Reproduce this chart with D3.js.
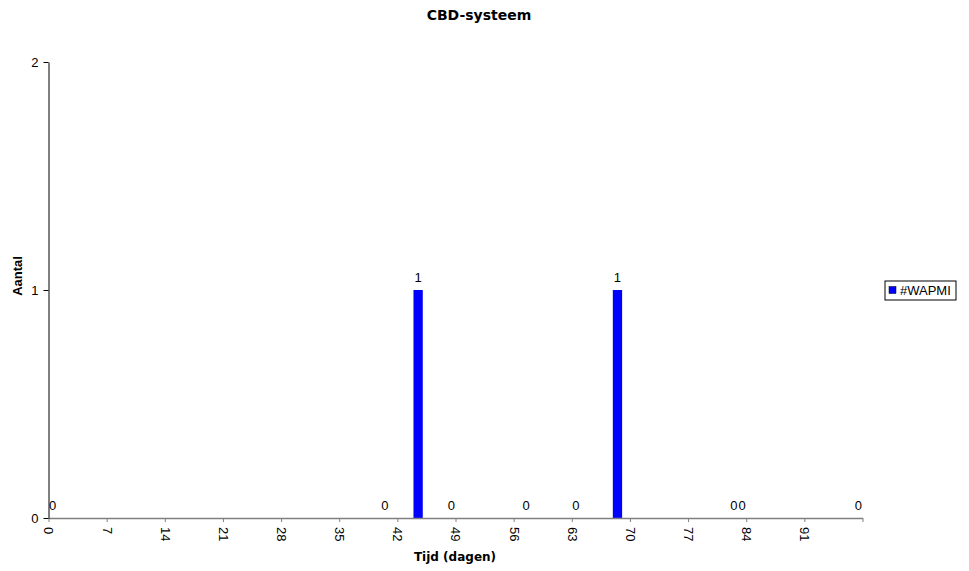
<!DOCTYPE html>
<html>
<head>
<meta charset="utf-8">
<script src="https://cdn.jsdelivr.net/npm/d3@7"></script>
<style>
  body { margin: 0; background: #fff; }
  text { font-family: "Liberation Sans", Arial, sans-serif; }
</style>
</head>
<body>
<div id="container"></div>
<script>
var days = [0, 40, 44, 48, 57, 63, 68, 82, 83, 97];
var counts = [0, 0, 1, 0, 0, 0, 1, 0, 0, 0];
var xTicks = [0, 7, 14, 21, 28, 35, 42, 49, 56, 63, 70, 77, 84, 91, 98];
var yTicks = [0, 1, 2];
var seriesName = "#WAPMI";

var width = 969, height = 571;
var x = d3.scaleLinear().domain([0, 98]).range([48.5, 862.5]);
var y = d3.scaleLinear().domain([0, 2]).range([518, 62]);

var svg = d3.select("#container").append("svg")
    .attr("width", width)
    .attr("height", height);

svg.append("text")
    .attr("x", 479).attr("y", 20)
    .attr("text-anchor", "middle")
    .style("font-family", "'DejaVu Sans', Verdana, sans-serif")
    .style("font-weight", "bold")
    .style("font-size", "14px")
    .text("CBD-systeem");

// bars
var barW = 9.3;
svg.selectAll(".bar")
    .data(days)
  .enter().append("rect")
    .attr("class", "bar")
    .attr("x", function(d) { return x(d + 0.5) - barW / 2; })
    .attr("y", function(d, i) { return y(counts[i]); })
    .attr("width", barW)
    .attr("height", function(d, i) { return y(0) - y(counts[i]); })
    .attr("fill", "#0000ff");

// value labels
svg.selectAll(".lbl")
    .data(days)
  .enter().append("text")
    .attr("class", "lbl")
    .attr("x", function(d) { return x(d + 0.5); })
    .attr("y", function(d, i) { return y(counts[i]) - 8; })
    .attr("text-anchor", "middle")
    .style("font-size", "13px")
    .text(function(d, i) { return counts[i]; });

// x axis
var xAxis = svg.append("g")
    .attr("transform", "translate(0," + y(0) + ")")
    .call(d3.axisBottom(x).tickValues(xTicks).tickSize(4).tickSizeOuter(0)
      .tickFormat(function(d) { return d === 98 ? "" : d; }));
xAxis.select(".domain").attr("stroke", "#808080").attr("stroke-width", 1.5);
xAxis.selectAll(".tick line").attr("stroke", "#808080");
xAxis.selectAll(".tick text")
    .style("font-size", "13px")
    .attr("fill", "#000")
    .attr("text-anchor", "start")
    .attr("transform", "rotate(90)")
    .attr("x", 9).attr("y", 0).attr("dy", "0.35em");

// y axis
var yAxis = svg.append("g")
    .attr("transform", "translate(" + x(0) + ",0)")
    .call(d3.axisLeft(y).tickValues(yTicks).tickSize(5).tickSizeOuter(0)
      .tickFormat(d3.format("d")));
yAxis.select(".domain").attr("stroke", "#000");
yAxis.selectAll(".tick text").style("font-size", "13px").attr("fill", "#000").attr("x", -10);

svg.append("text")
    .attr("x", 455).attr("y", 561)
    .attr("text-anchor", "middle")
    .style("font-family", "'DejaVu Sans', Verdana, sans-serif")
    .style("font-weight", "bold")
    .style("font-size", "12px")
    .text("Tijd (dagen)");

svg.append("text")
    .attr("transform", "translate(22,276) rotate(-90)")
    .attr("text-anchor", "middle")
    .style("font-weight", "bold")
    .style("font-size", "13px")
    .text("Aantal");

// legend
var legend = svg.append("g").attr("transform", "translate(885,281)");
legend.append("rect")
    .attr("width", 71).attr("height", 19)
    .attr("fill", "#fff").attr("stroke", "#000");
legend.append("rect")
    .attr("x", 4).attr("y", 5.5).attr("width", 7).attr("height", 7)
    .attr("fill", "#0000ff").attr("stroke", "#000").attr("stroke-width", 0.5);
legend.append("text")
    .attr("x", 15).attr("y", 14)
    .style("font-size", "13px")
    .text(seriesName);
</script>
</body>
</html>
